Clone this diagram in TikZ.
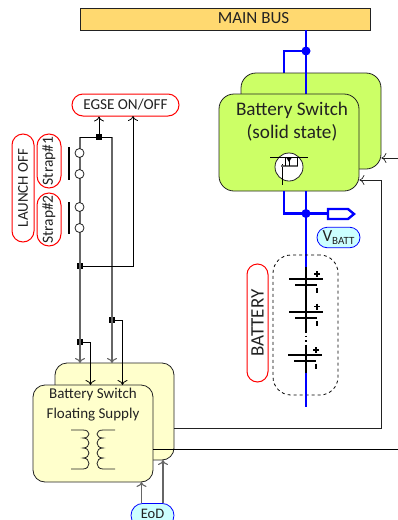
\documentclass[tikz,border=0pt]{standalone}
\usepackage{fontspec}
\setmainfont{Carlito}
\usetikzlibrary{arrows.meta,shapes.misc}
\definecolor{ink}{HTML}{222222}
\definecolor{busfill}{HTML}{FFD970}
\definecolor{swfill}{HTML}{CCFF66}
\definecolor{supfill}{HTML}{FFFFCC}
\definecolor{tagfill}{HTML}{CCFFFF}
\definecolor{wire}{HTML}{666666}
\tikzset{
  x=1pt,y=-1pt,
  >={To[length=5pt,width=10pt]},
  bigbox/.style={draw=ink,line width=0.8pt,rounded corners=15pt,inner sep=0pt,minimum width=#1},
  redpill/.style={rounded rectangle,draw=red,line width=1pt,fill=white,inner sep=0pt,text=ink},
  bluepill/.style={rounded rectangle,draw=blue,line width=0.8pt,fill=tagfill,inner sep=0pt,text=ink},
  power/.style={draw=blue,line width=2.8pt},
  graywire/.style={draw=wire,line width=1.1pt},
  thinwire/.style={draw=ink,line width=0.7pt},
  blackwire/.style={draw=black,line width=0.8pt},
  cell/.style={draw=black,line width=2pt},
  junc/.style={fill=black,inner sep=0pt,minimum size=6pt},
  bluedot/.style={fill=blue,circle,inner sep=0pt,minimum size=9pt},
  contact/.style={circle,draw=ink,line width=0.8pt,fill=white,inner sep=0pt,minimum size=9pt},
}
\begin{document}
\begin{tikzpicture}
\useasboundingbox (0,0) rectangle (398,520);
\begin{scope}
\clip (0,0) rectangle (398,520);
% main bus
\node[draw=ink,line width=0.8pt,fill=busfill,minimum width=290pt,minimum height=22pt,inner sep=0pt] (bus) at (225,19) {};
\node[text=ink,font=\fontsize{17}{20}\selectfont,inner sep=0pt] (buslabel) at (253.5,18.5) {MAIN BUS};
% named points
\coordinate (jtop) at (306,51);
\coordinate (jbot) at (306,213.5);
\coordinate (branchU) at (284,51);
\coordinate (branchL) at (284,213.5);
% switches
\draw[power] (jtop) -- (branchU) -- (284,74);
\node[bigbox=140pt,fill=swfill,minimum height=96pt] (swback) at (311,121) {};
\draw[power] (bus.south -| jtop) -- (306,95);
\node[bigbox=140pt,fill=swfill,minimum height=97pt,align=center,text=ink] (swfront) at (289,142.5) {};
\node[text=ink,font=\fontsize{19.2}{23}\selectfont,align=center,inner sep=0pt] (swlabel) at (292,121.5) {Battery Switch\\(solid state)};
\node[bluedot] (dtop) at (jtop) {};
% mosfet
\node[circle,draw=ink,line width=0.8pt,fill=white,minimum size=28pt,inner sep=0pt] (fet) at (289,167) {};
\draw[black,line width=0.8pt] (270,157) -- (308,157);
\draw[black,line width=0.8pt] (282,164) -- (282,185);
\draw[wire,line width=1.4pt] (281,166) -- (298,166);
\draw[black,line width=0.7pt] (285,157) -- (285,166) (297,157) -- (297,166) (289,157) -- (289,166);
\fill[black] (286.5,158) -- (291.5,158) -- (289,162) -- cycle;
% power below switch
\draw[power] (swfront.south -| branchL) -- (branchL) -- (jbot);
\draw[power] (swfront.south -| jbot) -- (306,267);
\coordinate (tagin) at (327,213.5);
\draw[power] (jbot) -- (tagin);
\node[bluedot] (dbot) at (jbot) {};
\draw[power,fill=white,line width=2.4pt] (328,209) -- (348,209) -- (354,214) -- (348,219) -- (328,219) -- cycle;
\node[bluepill,minimum width=43pt,minimum height=20.5pt,font=\fontsize{17}{18}\selectfont] (vbatt) at (338.5,237.5) {V\raisebox{-2.5pt}{\fontsize{11}{11}\selectfont BATT}};
% battery
\node[draw=black,dashed,line width=0.8pt,rounded corners=18pt,minimum width=65pt,minimum height=140pt,inner sep=0pt] (battbox) at (305.5,325) {};
\node[redpill,rotate=90,minimum width=118pt,minimum height=21pt,font=\fontsize{19}{21}\selectfont] (battlabel) at (257.5,323) {BATTERY};
\draw[black,line width=2pt] (306,267) -- (306,331);
\draw[black,line width=1.2pt,dash pattern=on 1.5pt off 3pt] (306,331) -- (306,345);
\draw[black,line width=2pt] (306,345) -- (306,373);
\draw[power] (306,373) -- (306,407);
\draw[cell] (289,279) -- (323,279) (295,284.5) -- (317,284.5);
\draw[cell] (289,312) -- (323,312) (295,317.5) -- (317,317.5);
\draw[cell] (288,355) -- (322,355) (294,360.5) -- (316,360.5);
\draw[black,line width=1.8pt] (314,274) -- (320,274) (317,271) -- (317,277) (317,288) -- (317,293);
\draw[black,line width=1.8pt] (314,306.5) -- (320,306.5) (317,303.5) -- (317,309.5) (317,321) -- (317,326);
\draw[black,line width=1.8pt] (313,350) -- (319,350) (316,347) -- (316,353) (316,363.5) -- (316,368.5);
% supply boxes
\node[bigbox=119pt,fill=supfill,minimum height=97pt,rounded corners=12pt] (supback) at (114.5,411.5) {};
\draw[thinwire] (supback.east |- 0,428) -- (381,428) -- (381,180);
\draw[thinwire,->] (381,180) -- (swfront.east |- 0,180);
\coordinate (r1) at (398,158);
\draw[thinwire,->] (r1) -- (swback.east |- r1);
\node[bigbox=120pt,fill=supfill,minimum height=97pt,rounded corners=12pt] (supfront) at (93,433.5) {};
\draw[blackwire] (supfront.east |- 0,449) -- (398,449);
\node[text=ink,font=\fontsize{15}{20}\selectfont,align=center,inner sep=0pt] (suplabel) at (93,405) {Battery Switch\\Floating Supply};
% transformer
\draw[ink,line width=0.8pt] (71,430) -- (83,430)
  .. controls (91,430) and (91,438) .. (83,438)
  .. controls (91,438) and (91,448) .. (83,448)
  .. controls (91,448) and (91,458) .. (83,458)
  .. controls (91,458) and (91,469) .. (83,469) -- (71,469);
\draw[ink,line width=0.8pt] (115,430) -- (103,430)
  .. controls (95,430) and (95,438) .. (103,438)
  .. controls (95,438) and (95,448) .. (103,448)
  .. controls (95,448) and (95,458) .. (103,458)
  .. controls (95,458) and (95,469) .. (103,469) -- (115,469);
% EoD
\node[bluepill,minimum width=43pt,minimum height=24pt,anchor=north] (eod) at (152.5,503) {};
\node[text=ink,inner sep=0pt,font=\fontsize{14.5}{15}\selectfont] (eodlabel) at (152.5,513.5) {EoD};
\draw[graywire,->] (eod.north -| 141.5,0) -- (141.5,482);
\draw[graywire,->] (eod.north -| 163,0) -- (163,460);
% straps and labels
\node[redpill,rotate=90,minimum width=108pt,minimum height=22pt,font=\fontsize{15}{16}\selectfont] (launch) at (23,188) {LAUNCH OFF};
\node[redpill,rotate=90,minimum width=54pt,minimum height=24pt,font=\fontsize{15.5}{16}\selectfont] (strapa) at (49,161) {Strap\#1};
\node[redpill,rotate=90,minimum width=53pt,minimum height=24pt,font=\fontsize{15.5}{16}\selectfont] (strapb) at (49,219.5) {Strap\#2};
\node[redpill,minimum width=107pt,minimum height=22pt,font=\fontsize{15.2}{16}\selectfont] (egse) at (125.5,105) {EGSE ON/OFF};
% wiring
\coordinate (topL) at (80,137);
\coordinate (topR) at (112,137);
\node[junc] (j1) at (99,137) {};
\node[junc] (j2) at (80,266) {};
\node[junc] (j3) at (80,342) {};
\node[junc] (j4) at (112,320) {};
\draw[graywire,->] (topL) -- (80,363);
\draw[graywire,->] (topR) -- (112,363);
\draw[blackwire] (topL) -- (topR);
\draw[blackwire,->] (j1) -- (egse.south -| j1);
\draw[blackwire,->] (j2) -- (133,266) -- (133,116);
\draw[blackwire,->] (j3) -- (90.5,342) -- (90.5,385);
\draw[blackwire,->] (j4) -- (122.5,320) -- (122.5,385);
\node[contact] (c1) at (79.5,153) {};
\node[contact] (c2) at (79.5,174) {};
\node[contact] (c3) at (79.5,207) {};
\node[contact] (c4) at (79.5,228) {};
\draw[black,line width=1.5pt] (69,147) -- (69,180) (69,202) -- (69,234);
\end{scope}
\end{tikzpicture}
\end{document}
